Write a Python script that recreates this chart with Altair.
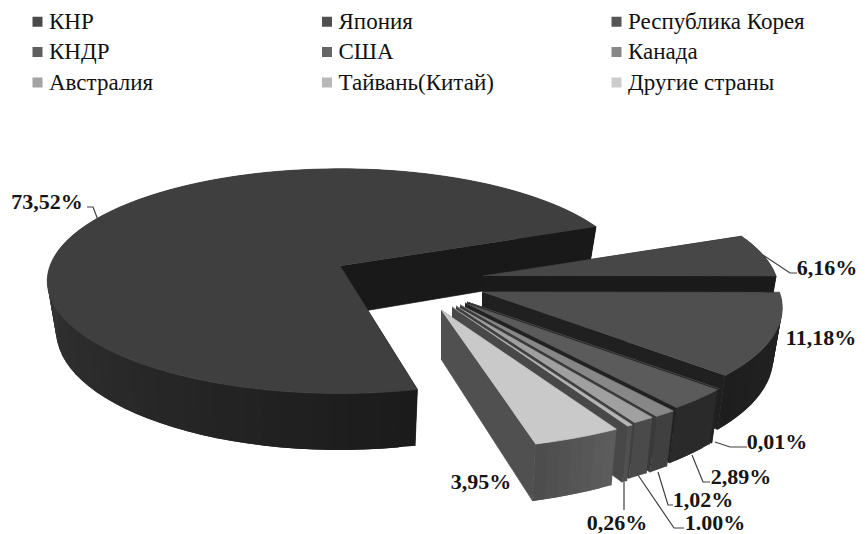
import math
import altair as alt
import pandas as pd

countries = ["КНР", "Япония", "Республика Корея", "КНДР", "США", "Канада",
             "Австралия", "Тайвань(Китай)", "Другие страны"]
shares = [73.52, 6.16, 11.18, 0.01, 2.89, 1.02, 1.00, 0.26, 3.95]
share_labels = ["73,52%", "6,16%", "11,18%", "0,01%", "2,89%", "1,02%", "1.00%", "0,26%", "3,95%"]

legend_colors = ["#4a4a4a", "#4f4f4f", "#555555", "#5e5e5e", "#666666", "#888888", "#a3a3a3", "#b8b8b8", "#cccccc"]
top_colors = ["#3f3f3f", "#474747", "#4f4f4f", "#555555", "#5b5b5b", "#878787", "#a0a0a0", "#b5b5b5", "#c9c9c9"]
wall_near = ["#1b1b1b", "#1f1f1f", "#232323", "#2a2a2a", "#2a2a2a", "#404040", "#4a4a4a", "#505050", "#4b4b4b"]
wall_far = ["#363636", "#1f1f1f", "#1e1e1e", "#2a2a2a", "#2a2a2a", "#404040", "#4a4a4a", "#505050", "#5c5c5c"]
cut_colors = ["#191919", "#1a1a1a", "#202020", "#222222", "#222222", "#3a3a3a", "#404040", "#484848", "#505050"]

# layout of the exploded slices, in page pixels
tip_x = [340, 483, 482, 467, 465, 460, 456, 452, 441]
tip_y = [266, 276, 292, 302, 303, 305, 306, 307, 310]
radius_factor = [0.99, 1.0, 1.015, 1.05, 1.05, 1.06, 1.06, 1.07, 1.07]
label_x = [47, 827, 821, 777, 741, 703, 715, 617, 481]
label_y = [202, 268, 338, 442, 477, 500, 523, 523, 482]
leader_x = [[87, 93, 98], [763, 790, 797], [], [715, 730, 747], [692, 703, 710], [658, 668, 673], [638, 674, 684], [624, 624], []]
leader_y = [[207, 207, 220], [255, 273, 273], [], [442, 447, 447], [455, 482, 482], [472, 505, 505], [475, 528, 528], [482, 510], []]

A, B, K, DEPTH, CONV = 293.0, 111.4, 0.136, 49.0, 0.03
START = 22.0  # angle where Japan begins, going clockwise
KOREA_EXTRA = 1.7  # drawn sweep in the picture exceeds the share slightly
KNR_EXTRA = 1.6


def top_pt(i, t):
    r = radius_factor[i]
    u, v = r * math.cos(math.radians(t)), r * math.sin(math.radians(t))
    s = 1 / (1 + K * v)
    return tip_x[i] + A * u * s, tip_y[i] - B * v * s, s


def bottom_pt(i, t):
    x, y, s = top_pt(i, t)
    return tip_x[i] + (x - tip_x[i]) * (1 - CONV), y + DEPTH * s


def mix(c1, c2, f):
    a = int(c1[1:3], 16)
    b = int(c2[1:3], 16)
    v = round(a + (b - a) * f)
    return "#%02x%02x%02x" % (v, v, v)


# angular extents from the shares
spans = [p * 3.6 for p in shares]
ends = {}
cur = START
for i in range(1, 9):
    extra = KOREA_EXTRA if i == 2 else 0.0
    ends[i] = (cur, cur - spans[i] - extra)
    cur -= spans[i] + extra
ends[0] = (cur - KNR_EXTRA, START - 360)

rows = []
gid = 0


def poly(pts, key, sw=0.7):
    global gid
    gid += 1
    for n, (x, y) in enumerate(pts):
        rows.append({"x": x, "y": y, "g": gid, "o": n, "k": key, "sw": sw})


def cut(i, t):
    cx, cy = tip_x[i], tip_y[i]
    x, y, _ = top_pt(i, t)
    poly([(cx, cy), (x, y), bottom_pt(i, t), (cx, cy + DEPTH)], cut_colors[i])


for i in range(9):
    t0, t1 = ends[i]
    cx, cy = tip_x[i], tip_y[i]
    cut(i, t0)
    # outer wall as narrow strips; each one overlaps the next so no seam shows
    steps = max(1, int(abs(t1 - t0) / (3 if i == 0 else 2)))
    for n in range(steps):
        a = t0 + (t1 - t0) * n / steps
        b = t0 + (t1 - t0) * min(steps, n + 2) / steps
        f = min(1.0, (t0 - a) / 107.0) if i == 0 else n / steps
        if i == 0:
            key = mix(wall_near[0], wall_far[0], f)
        else:
            key = mix(wall_far[i], wall_near[i], f) if i == 8 else mix(wall_near[i], wall_far[i], f)
        poly([top_pt(i, a)[:2], top_pt(i, b)[:2], bottom_pt(i, b), bottom_pt(i, a)], key, 0)
    cut(i, t1)
    # top face
    steps = max(2, int(abs(t1 - t0) / 2))
    pts = [(cx, cy)]
    for n in range(steps + 1):
        pts.append(top_pt(i, t0 + (t1 - t0) * n / steps)[:2])
    poly(pts, top_colors[i])

df = pd.DataFrame(rows)
shade_keys = sorted(set(df["k"]))
domain = countries + shade_keys
color_range = legend_colors + shade_keys

x_scale = alt.Scale(domain=[8, 858], nice=False, zero=False)
y_scale = alt.Scale(domain=[534, 8], nice=False, zero=False)

fill_scale = alt.Scale(domain=domain, range=color_range)

faces = alt.Chart(df).mark_line(interpolate="linear").encode(
    x=alt.X("x:Q", scale=x_scale, axis=None),
    y=alt.Y("y:Q", scale=y_scale, axis=None),
    detail="g:N",
    order="o:Q",
    fill=alt.Fill("k:N", scale=fill_scale, legend=alt.Legend(
        values=countries, title=None, orient="none", legendX=18, legendY=2,
        columns=3, direction="horizontal", gridAlign="all", columnPadding=89.5, rowPadding=6.5,
        symbolType="square", symbolSize=100, symbolStrokeWidth=0, symbolOpacity=1,
        labelFont="Liberation Serif", labelFontSize=23, labelColor="#111111",
        labelOffset=0, labelLimit=300)),
    stroke=alt.Stroke("k:N", scale=fill_scale, legend=None),
    strokeWidth=alt.StrokeWidth("sw:Q", scale=None, legend=None),
)

lead_rows = []
for i in range(9):
    for n, (x, y) in enumerate(zip(leader_x[i], leader_y[i])):
        lead_rows.append({"x": x, "y": y, "g": countries[i], "o": n})
leaders = alt.Chart(pd.DataFrame(lead_rows)).mark_line(color="#404040", strokeWidth=1.2).encode(
    x=alt.X("x:Q", scale=x_scale, axis=None),
    y=alt.Y("y:Q", scale=y_scale, axis=None),
    detail="g:N",
    order="o:Q",
)

labels = alt.Chart(pd.DataFrame({"x": label_x, "y": label_y, "t": share_labels})).mark_text(
    font="Liberation Serif", fontWeight="bold", fontSize=22, color="#151515",
    align="center", baseline="middle",
).encode(
    x=alt.X("x:Q", scale=x_scale, axis=None),
    y=alt.Y("y:Q", scale=y_scale, axis=None),
    text="t:N",
)

chart = alt.layer(faces, leaders, labels).properties(
    width=850, height=526, padding=0, background="white",
).configure_view(stroke=None)

chart.save("out.html", embed_options={"renderer": "svg", "actions": False})
